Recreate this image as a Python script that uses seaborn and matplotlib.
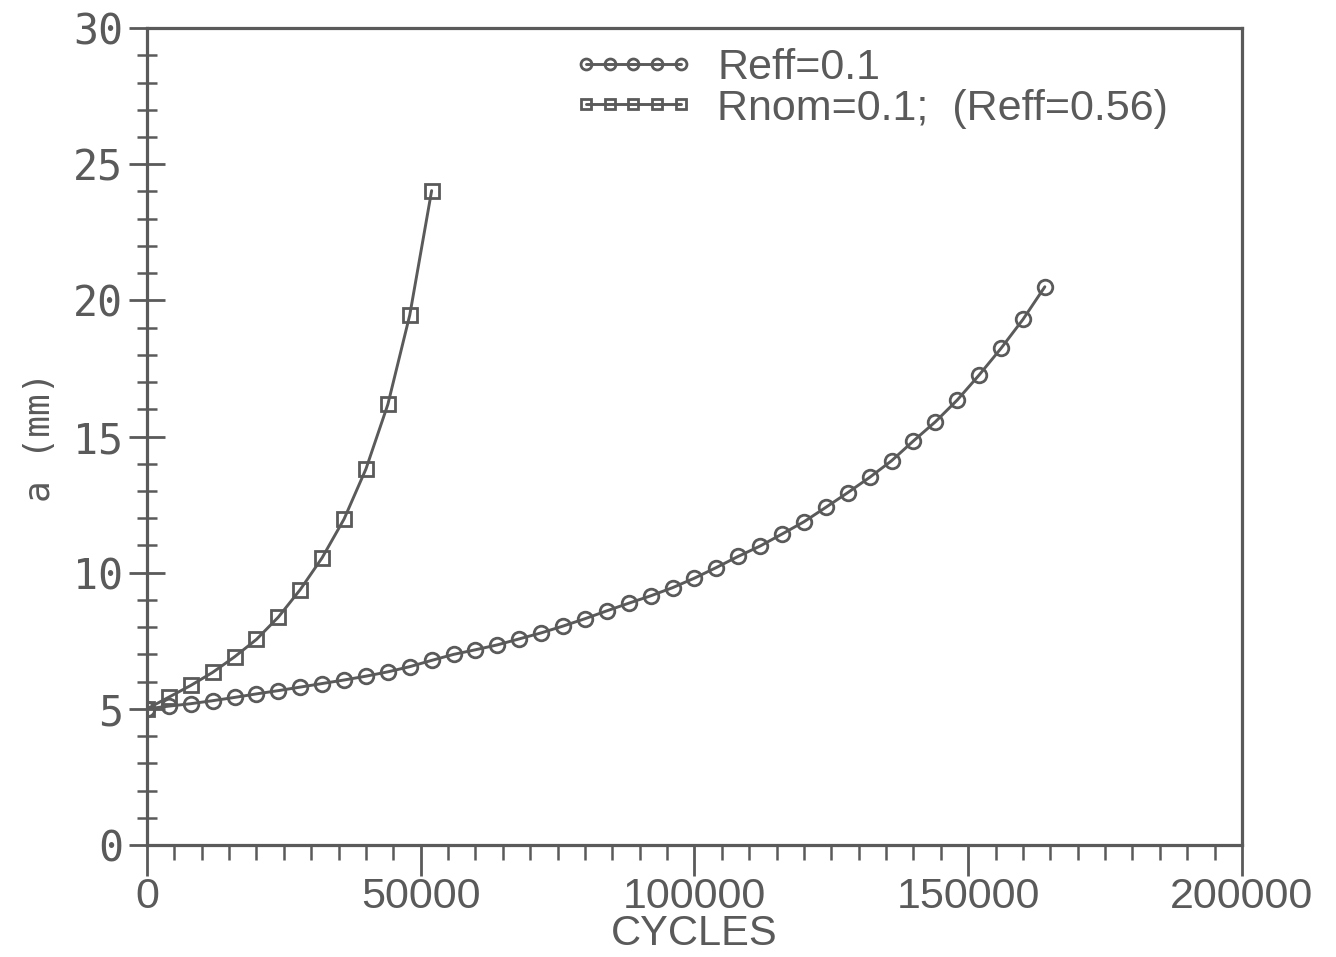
import numpy as np
import pandas as pd
import matplotlib
matplotlib.use("Agg")
import matplotlib.pyplot as plt
from matplotlib.ticker import MultipleLocator, FixedLocator
import seaborn as sns

# Crack length a (mm) versus load cycles for the two R-ratio cases
cycles_reff = [0, 4000, 8000, 12000, 16000, 20000, 24000, 28000, 32000, 36000,
               40000, 44000, 48000, 52000, 56000, 60000, 64000, 68000, 72000, 76000,
               80000, 84000, 88000, 92000, 96000, 100000, 104000, 108000, 112000, 116000,
               120000, 124000, 128000, 132000, 136000, 140000, 144000, 148000, 152000, 156000,
               160000, 164000]
a_reff = [5.00, 5.10, 5.19, 5.30, 5.42, 5.55, 5.67, 5.80, 5.93, 6.06,
          6.20, 6.36, 6.55, 6.78, 7.00, 7.17, 7.35, 7.57, 7.79, 8.04,
          8.31, 8.60, 8.88, 9.15, 9.45, 9.80, 10.19, 10.60, 10.98, 11.42,
          11.87, 12.40, 12.94, 13.50, 14.11, 14.84, 15.54, 16.34, 17.26, 18.24,
          19.30, 20.50]

cycles_rnom = [0, 4000, 8000, 12000, 16000, 20000, 24000, 28000, 32000, 36000,
               40000, 44000, 48000, 52000]
a_rnom = [5.00, 5.43, 5.86, 6.34, 6.91, 7.55, 8.37, 9.38, 10.55, 11.97,
          13.81, 16.18, 19.46, 24.03]

label_reff = "Reff=0.1"
label_rnom = "Rnom=0.1;  (Reff=0.56)"

x_ticks = [0, 50000, 100000, 150000, 200000]
x_ticklabels = ["0", "50000", "100000", "150000", "200000"]
y_ticks = [0, 5, 10, 15, 20, 25, 30]
y_ticklabels = ["0", "5", "10", "15", "20", "25", "30"]

sns.set_theme(style="white")
plt.rcParams["font.family"] = ["Liberation Sans", "DejaVu Sans"]

ink = "#5a5a5a"
sans = ["Liberation Sans", "DejaVu Sans"]
mono = ["DejaVu Sans Mono", "DejaVu Sans"]

fig = plt.figure(figsize=(13.36, 9.57), dpi=100)
ax = fig.add_axes([0.110, 0.117, 0.8196, 0.8537])

df_reff = pd.DataFrame({"cycles": cycles_reff, "a": a_reff})
df_rnom = pd.DataFrame({"cycles": cycles_rnom, "a": a_rnom})

common = dict(color=ink, linewidth=2.1, markersize=10.5, markeredgewidth=2.0,
              markerfacecolor="none", markeredgecolor=ink, estimator=None, sort=False)
sns.lineplot(data=df_reff, x="cycles", y="a", marker="o", label=label_reff, ax=ax, **common)
sns.lineplot(data=df_rnom, x="cycles", y="a", marker="s", label=label_rnom, ax=ax, **common)

ax.set_xlim(0, 200000)
ax.set_ylim(0, 30)

ax.xaxis.set_major_locator(FixedLocator(x_ticks))
ax.xaxis.set_minor_locator(MultipleLocator(5000))
ax.yaxis.set_major_locator(FixedLocator(y_ticks))
ax.yaxis.set_minor_locator(MultipleLocator(1))
ax.set_xticklabels(x_ticklabels, fontfamily=sans, fontsize=31, color=ink)
ax.set_yticklabels(y_ticklabels, fontfamily=mono, fontsize=30, color=ink)

ax.tick_params(axis="x", which="major", direction="out", length=22, width=2.0,
               color=ink, pad=1, bottom=True)
ax.tick_params(axis="x", which="minor", direction="out", length=11, width=1.8,
               color=ink, bottom=True)
ax.tick_params(axis="y", which="major", direction="inout", length=26, width=2.0,
               color=ink, pad=4, left=True)
ax.tick_params(axis="y", which="minor", direction="inout", length=14, width=1.8,
               color=ink, left=True)

for side in ["left", "right", "top", "bottom"]:
    ax.spines[side].set_visible(True)
    ax.spines[side].set_color(ink)
    ax.spines[side].set_linewidth(2.3)

ax.set_xlabel("CYCLES", fontfamily=sans, fontsize=30, color=ink, labelpad=-2)
ax.set_ylabel("a (mm)", fontfamily=mono, fontsize=26, color=ink, labelpad=12)

leg = ax.legend(loc="upper left", bbox_to_anchor=(0.389, 0.976), frameon=False,
                numpoints=5, handlelength=2.8, handletextpad=0.55, markerscale=0.75,
                borderpad=0, borderaxespad=0, labelspacing=0.02,
                prop={"family": sans, "size": 31})
for t in leg.get_texts():
    t.set_color(ink)

fig.savefig("out.png", dpi=100, facecolor="white")
